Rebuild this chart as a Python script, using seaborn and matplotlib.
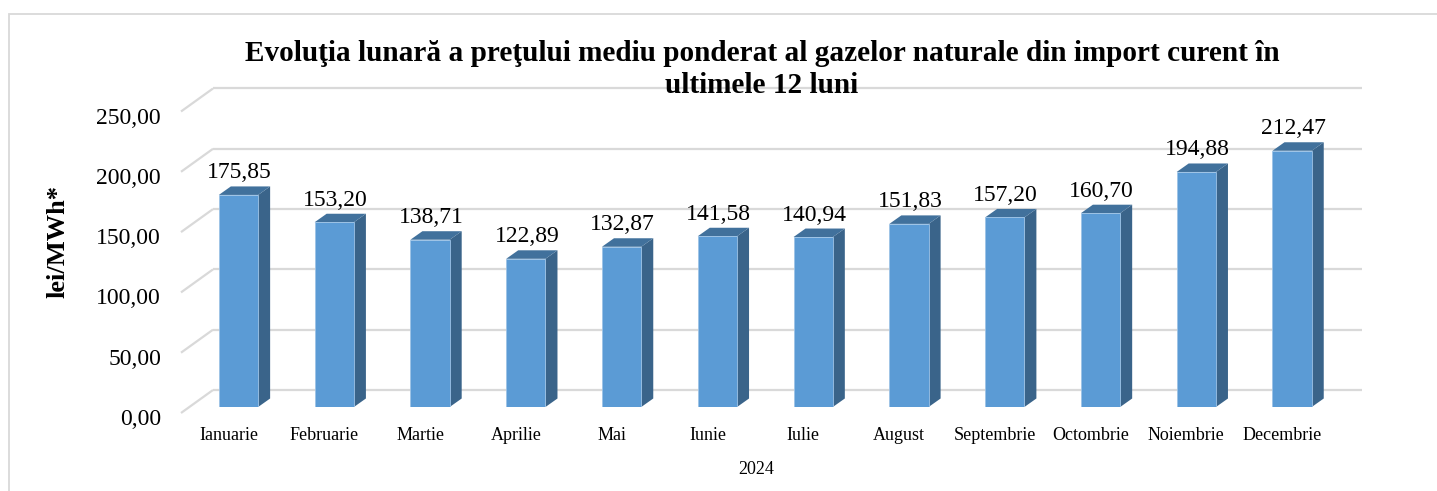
import numpy as np
import pandas as pd
import matplotlib
matplotlib.use("Agg")
import matplotlib.pyplot as plt
import seaborn as sns
from matplotlib.patches import Polygon, Rectangle

# ---------------- data ----------------
months = ["Ianuarie", "Februarie", "Martie", "Aprilie", "Mai", "Iunie",
          "Iulie", "August", "Septembrie", "Octombrie", "Noiembrie", "Decembrie"]
values = [175.85, 153.20, 138.71, 122.89, 132.87, 141.58,
          140.94, 151.83, 157.20, 160.70, 194.88, 212.47]
yticks = [0, 50, 100, 150, 200, 250]
ytick_labels = ["0,00", "50,00", "100,00", "150,00", "200,00", "250,00"]
year_label = "2024"
title = ("Evoluţia lunară a preţului mediu ponderat al gazelor naturale din import curent în\n"
         "ultimele 12 luni")
ylabel = "lei/MWh*"

# ---------------- style ----------------
sns.set_theme(style="white")
plt.rcParams["font.family"] = ["Liberation Serif", "DejaVu Serif"]
plt.rcParams["text.color"] = "black"
plt.rcParams["xtick.color"] = "black"
plt.rcParams["ytick.color"] = "black"

W, H, DPI = 1437, 491, 100
fig = plt.figure(figsize=(W / DPI, H / DPI), dpi=DPI)
fig.patch.set_facecolor("white")

front_c = "#5B9BD5"
side_c = "#3A648A"
top_c = "#41719C"
grid_c = "#D9D9D9"

# front plane of the bars (pixel geometry)
ax_left, ax_right, ax_top, ax_bot = 190.6, 1340.0, 105.5, 407.0
ax = fig.add_axes([ax_left / W, (H - ax_bot) / H,
                   (ax_right - ax_left) / W, (ax_bot - ax_top) / H])
ax.patch.set_visible(False)

df = pd.DataFrame({"Luna": months, "Valoare": values})
sns.barplot(data=df, x="Luna", y="Valoare", ax=ax, color=front_c,
            saturation=1, width=0.41, zorder=3, edgecolor="#9DC3E6", linewidth=0.6)
ax.set_xlim(-0.5, 11.5)
ax.set_ylim(0, 250)
ax.set_xticks([])
ax.set_yticks([])
ax.set_xlabel("")
ax.set_ylabel("")
for s in ax.spines.values():
    s.set_visible(False)

pxx = (ax_right - ax_left) / 12.0
pxy = (ax_bot - ax_top) / 250.0


def d(dxp, dyp):
    return dxp / pxx, dyp / pxy


# back wall gridlines + floor slants
bx, by = d(22.4, 17)
fxo, fyo = d(-9.6, -6)
for t in yticks:
    ax.plot([-0.5 + bx, 11.5 + bx], [t + by, t + by], color=grid_c, lw=1.6,
            zorder=1, clip_on=False, solid_capstyle="butt")
    ax.plot([-0.5 + fxo, -0.5 + bx], [t + fyo, t + by], color=grid_c, lw=1.6,
            zorder=1, clip_on=False, solid_capstyle="butt")

# 3D faces derived from the seaborn bars
ddx, ddy = d(12, 8.5)
bars = list(ax.patches)
for p, v in zip(bars, values):
    x, w, h = p.get_x(), p.get_width(), p.get_height()
    side = Polygon([(x + w, 0), (x + w + ddx, ddy), (x + w + ddx, h + ddy), (x + w, h)],
                   closed=True, fc=side_c, ec="none", zorder=2.9, clip_on=False)
    top = Polygon([(x, h), (x + ddx, h + ddy), (x + w + ddx, h + ddy), (x + w, h)],
                  closed=True, fc=top_c, ec="none", zorder=2.9, clip_on=False)
    ax.add_patch(side)
    ax.add_patch(top)
    ax.text(x + w / 2 + 1 / pxx, h + 16.5 / pxy, f"{v:.2f}".replace(".", ","),
            ha="center", va="baseline", fontsize=17, color="black", clip_on=False)

# tick axes on the front floor edge
ax2 = fig.add_axes([(ax_left - 10) / W, (H - ax_bot - 10) / H,
                    (ax_right - ax_left) / W, (ax_bot - ax_top) / H])
ax2.patch.set_visible(False)
ax2.set_xlim(-0.5, 11.5)
ax2.set_ylim(0, 250)
for s in ax2.spines.values():
    s.set_visible(False)
ax2.set_xticks(range(len(months)), months, fontsize=13)
ax2.set_yticks(yticks, ytick_labels, fontsize=17)
ax2.tick_params(axis="x", length=0, pad=7, colors="black")
ax2.tick_params(axis="y", length=0, pad=14.1, colors="black")
ax2.grid(False)

# texts
fig.text(762 / W, 1 - 93.3 / H, title, ha="center", va="baseline", fontsize=21.1,
         fontweight="bold", linespacing=1.23, color="black", multialignment="center")
fig.text(58 / W, 1 - 241 / H, ylabel, rotation=90, ha="center", va="center",
         fontsize=19, fontweight="bold", color="black")
fig.text(756 / W, 1 - 470 / H, year_label, ha="center", va="center", fontsize=13,
         color="black")

# chart border
fig.patches.append(Rectangle((8.5 / W, -0.1), 2.0, (H - 14) / H + 0.1,
                             transform=fig.transFigure, fill=False,
                             ec=grid_c, lw=1.3))

fig.savefig("out.png", dpi=DPI)
